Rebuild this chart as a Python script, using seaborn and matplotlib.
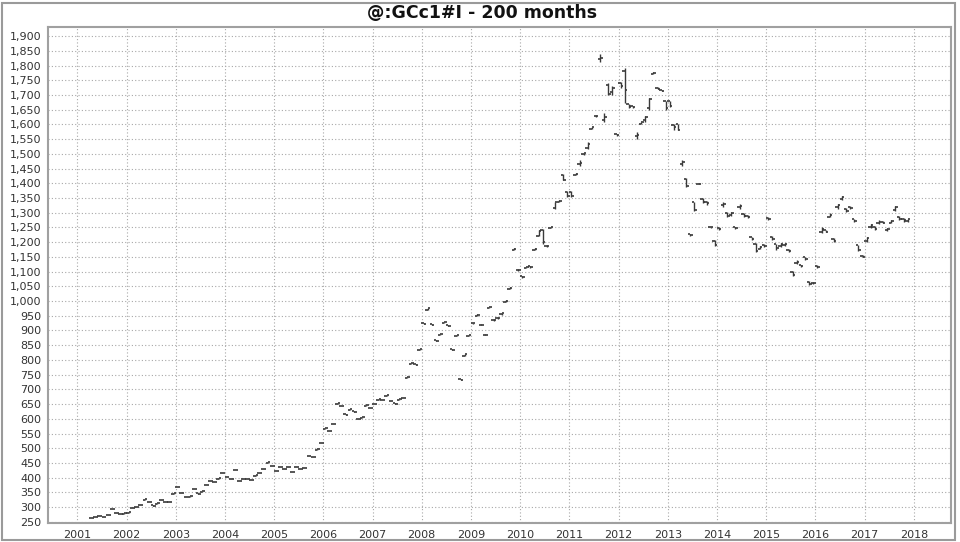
import matplotlib
matplotlib.use("Agg")
import matplotlib.pyplot as plt
from matplotlib.ticker import FuncFormatter, FixedLocator
from matplotlib.patches import Rectangle
import seaborn as sns
import pandas as pd
import numpy as np

title = "@:GCc1#I - 200 months"
first_month = "2001-04-01"
year_ticks = list(range(2001, 2019))
price_ticks = list(range(250, 1901, 50))

# monthly bars, Apr 2001 .. Nov 2017
opens = [
    263, 267, 269, 267, 272, 292, 280, 276, 278,
    281, 296, 301, 307, 325, 319, 306, 312, 323, 318, 317, 346,
    367, 348, 335, 336, 360, 347, 353, 374, 387, 385, 397, 415,
    403, 397, 426, 388, 394, 396, 392, 407, 415, 428, 451, 439,
    423, 435, 429, 435, 419, 436, 431, 432, 472, 471, 495, 517,
    566, 559, 582, 651, 645, 616, 631, 625, 601, 604, 645, 637,
    649, 664, 665, 678, 662, 652, 665, 670, 740, 786, 786, 833,
    926, 971, 921, 869, 884, 926, 918, 838, 881, 736, 815, 880,
    926, 950, 920, 886, 976, 934, 944, 955, 998, 1042, 1174, 1104,
    1084, 1112, 1118, 1175, 1222, 1240, 1188, 1249, 1316, 1338, 1428, 1372,
    1372, 1428, 1466, 1498, 1520, 1586, 1630, 1822, 1615, 1735, 1710, 1566,
    1740, 1780, 1668, 1662, 1560, 1602, 1615, 1655, 1772, 1725, 1716, 1678,
    1678, 1598, 1600, 1466, 1416, 1227, 1335, 1399, 1348, 1336, 1252, 1205,
    1248, 1325, 1300, 1294, 1250, 1318, 1296, 1288, 1216, 1195, 1178, 1192,
    1282, 1218, 1193, 1186, 1190, 1175, 1098, 1128, 1122, 1148, 1065, 1062,
    1120, 1234, 1240, 1286, 1212, 1318, 1347, 1312, 1320, 1278, 1190, 1154,
    1205, 1250, 1252, 1264, 1270, 1240, 1266, 1308, 1286, 1280, 1272,
]
highs = [
    264, 267, 270, 267, 273, 293, 280, 276, 279,
    282, 297, 302, 308, 326, 319, 306, 313, 324, 318, 318, 347,
    368, 348, 335, 337, 361, 347, 354, 375, 388, 385, 398, 416,
    403, 397, 427, 388, 395, 396, 392, 408, 416, 429, 452, 439,
    423, 436, 429, 436, 419, 437, 431, 433, 473, 471, 496, 519,
    569, 559, 584, 654, 645, 616, 633, 625, 601, 606, 647, 637,
    651, 666, 665, 680, 662, 652, 667, 672, 743, 789, 786, 836,
    926, 975, 921, 869, 887, 930, 918, 838, 885, 736, 819, 884,
    927, 955, 921, 887, 980, 938, 945, 959, 1002, 1047, 1179, 1108,
    1085, 1116, 1119, 1180, 1240, 1245, 1189, 1253, 1338, 1343, 1430, 1375,
    1375, 1436, 1480, 1504, 1540, 1593, 1632, 1838, 1640, 1740, 1730, 1566,
    1745, 1791, 1670, 1663, 1575, 1610, 1630, 1690, 1777, 1726, 1718, 1680,
    1680, 1600, 1600, 1480, 1418, 1227, 1338, 1400, 1350, 1340, 1253, 1208,
    1250, 1335, 1302, 1302, 1252, 1330, 1298, 1291, 1218, 1198, 1186, 1194,
    1284, 1220, 1195, 1198, 1198, 1178, 1101, 1138, 1124, 1150, 1067, 1064,
    1122, 1250, 1242, 1298, 1215, 1330, 1358, 1316, 1324, 1280, 1192, 1156,
    1218, 1262, 1254, 1276, 1272, 1248, 1277, 1322, 1288, 1282, 1280,
]
lows = [
    263, 266, 269, 266, 272, 292, 279, 275, 278,
    281, 296, 301, 307, 325, 318, 305, 312, 323, 317, 317, 346,
    367, 347, 334, 336, 360, 346, 353, 374, 387, 384, 397, 415,
    402, 396, 426, 387, 394, 395, 391, 407, 415, 428, 451, 438,
    422, 435, 428, 435, 418, 436, 430, 432, 472, 470, 495, 517,
    566, 557, 582, 651, 643, 614, 631, 623, 599, 604, 645, 635,
    649, 664, 663, 678, 660, 650, 665, 670, 740, 786, 783, 833,
    923, 971, 917, 865, 884, 926, 914, 834, 881, 732, 815, 880,
    923, 949, 917, 883, 975, 933, 940, 954, 997, 1041, 1173, 1103,
    1080, 1111, 1114, 1174, 1220, 1195, 1184, 1248, 1313, 1337, 1410, 1355,
    1355, 1428, 1460, 1497, 1515, 1585, 1626, 1812, 1610, 1700, 1700, 1561,
    1725, 1673, 1655, 1657, 1550, 1600, 1610, 1650, 1771, 1720, 1712, 1650,
    1660, 1580, 1580, 1460, 1388, 1222, 1305, 1396, 1333, 1328, 1248, 1186,
    1240, 1320, 1284, 1290, 1245, 1314, 1284, 1282, 1208, 1165, 1176, 1184,
    1276, 1208, 1175, 1184, 1186, 1166, 1084, 1126, 1116, 1140, 1056, 1058,
    1114, 1230, 1234, 1284, 1202, 1314, 1344, 1302, 1312, 1270, 1169, 1148,
    1200, 1248, 1242, 1262, 1264, 1238, 1264, 1305, 1276, 1270, 1270,
]
closes = [
    264, 266, 270, 266, 273, 293, 279, 275, 279,
    282, 297, 302, 308, 326, 318, 305, 313, 324, 317, 318, 347,
    368, 347, 334, 337, 361, 346, 354, 375, 388, 384, 398, 416,
    402, 396, 427, 387, 395, 395, 391, 408, 416, 429, 452, 438,
    422, 436, 428, 436, 418, 437, 430, 433, 473, 470, 496, 519,
    569, 557, 584, 654, 643, 614, 633, 623, 599, 606, 647, 635,
    651, 666, 663, 680, 660, 650, 667, 672, 743, 789, 783, 836,
    923, 975, 917, 865, 887, 930, 914, 834, 885, 732, 819, 884,
    924, 954, 918, 884, 979, 937, 941, 958, 1000, 1045, 1177, 1107,
    1081, 1115, 1115, 1178, 1238, 1200, 1186, 1251, 1335, 1341, 1412, 1358,
    1358, 1432, 1470, 1502, 1535, 1590, 1628, 1826, 1625, 1705, 1725, 1563,
    1732, 1717, 1660, 1659, 1565, 1607, 1625, 1688, 1775, 1721, 1714, 1655,
    1662, 1590, 1582, 1472, 1392, 1224, 1310, 1397, 1338, 1333, 1250, 1190,
    1244, 1330, 1288, 1298, 1247, 1324, 1288, 1285, 1212, 1170, 1182, 1188,
    1278, 1212, 1180, 1194, 1194, 1170, 1088, 1134, 1118, 1144, 1058, 1060,
    1116, 1246, 1236, 1294, 1204, 1325, 1354, 1306, 1316, 1272, 1172, 1150,
    1214, 1257, 1245, 1270, 1266, 1244, 1273, 1318, 1279, 1274, 1278,
]

months = pd.date_range(first_month, periods=len(closes), freq="MS")
df = pd.DataFrame({"date": months, "open": opens, "high": highs,
                   "low": lows, "close": closes})
# fractional year at mid-month
df["t"] = df["date"].dt.year + (df["date"].dt.month - 0.5) / 12

sns.set_theme(style="whitegrid")
plt.rcParams["font.family"] = ["DejaVu Sans"]

fig = plt.figure(figsize=(9.6, 5.42), dpi=100)
ax = fig.add_axes([0.0503, 0.0356, 0.9400, 0.9140])

bar_color = "#3a3a3a"
tick_w = 0.05
ax.vlines(df["t"], df["low"], df["high"], color=bar_color, lw=1.0, zorder=3)
ax.hlines(df["open"], df["t"] - tick_w, df["t"], color=bar_color, lw=1.2, zorder=3)
ax.hlines(df["close"], df["t"], df["t"] + tick_w, color=bar_color, lw=1.2, zorder=3)

ax.set_xlim(2000.41, 2018.75)
ax.set_ylim(247, 1930)
ax.xaxis.set_major_locator(FixedLocator(year_ticks))
ax.yaxis.set_major_locator(FixedLocator(price_ticks))
ax.xaxis.set_major_formatter(FuncFormatter(lambda v, p: f"{int(round(v))}"))
ax.yaxis.set_major_formatter(FuncFormatter(lambda v, p: f"{v:,.0f}"))

ax.set_facecolor("white")
ax.grid(True, color="#a8a8a8", linestyle=(0, (1, 2)), linewidth=0.8)
for side, sp in ax.spines.items():
    sp.set_color("#a0a0a0")
    sp.set_linewidth(1.5)
ax.tick_params(axis="both", labelsize=8, colors="#444444", length=2,
               width=0.8, pad=3, direction="out")
ax.tick_params(axis="both", labelcolor="#333333")
ax.set_xlabel("")
ax.set_ylabel("")

fig.text(0.502, 0.9766, title, ha="center", va="center", fontsize=12.5,
         fontweight="bold", color="#111111")

fig.patches.append(Rectangle((0.002, 0.004), 0.993, 0.99, fill=False,
                             edgecolor="#9a9a9a", lw=1.5,
                             transform=fig.transFigure, figure=fig))

fig.savefig("out.png", dpi=100)
